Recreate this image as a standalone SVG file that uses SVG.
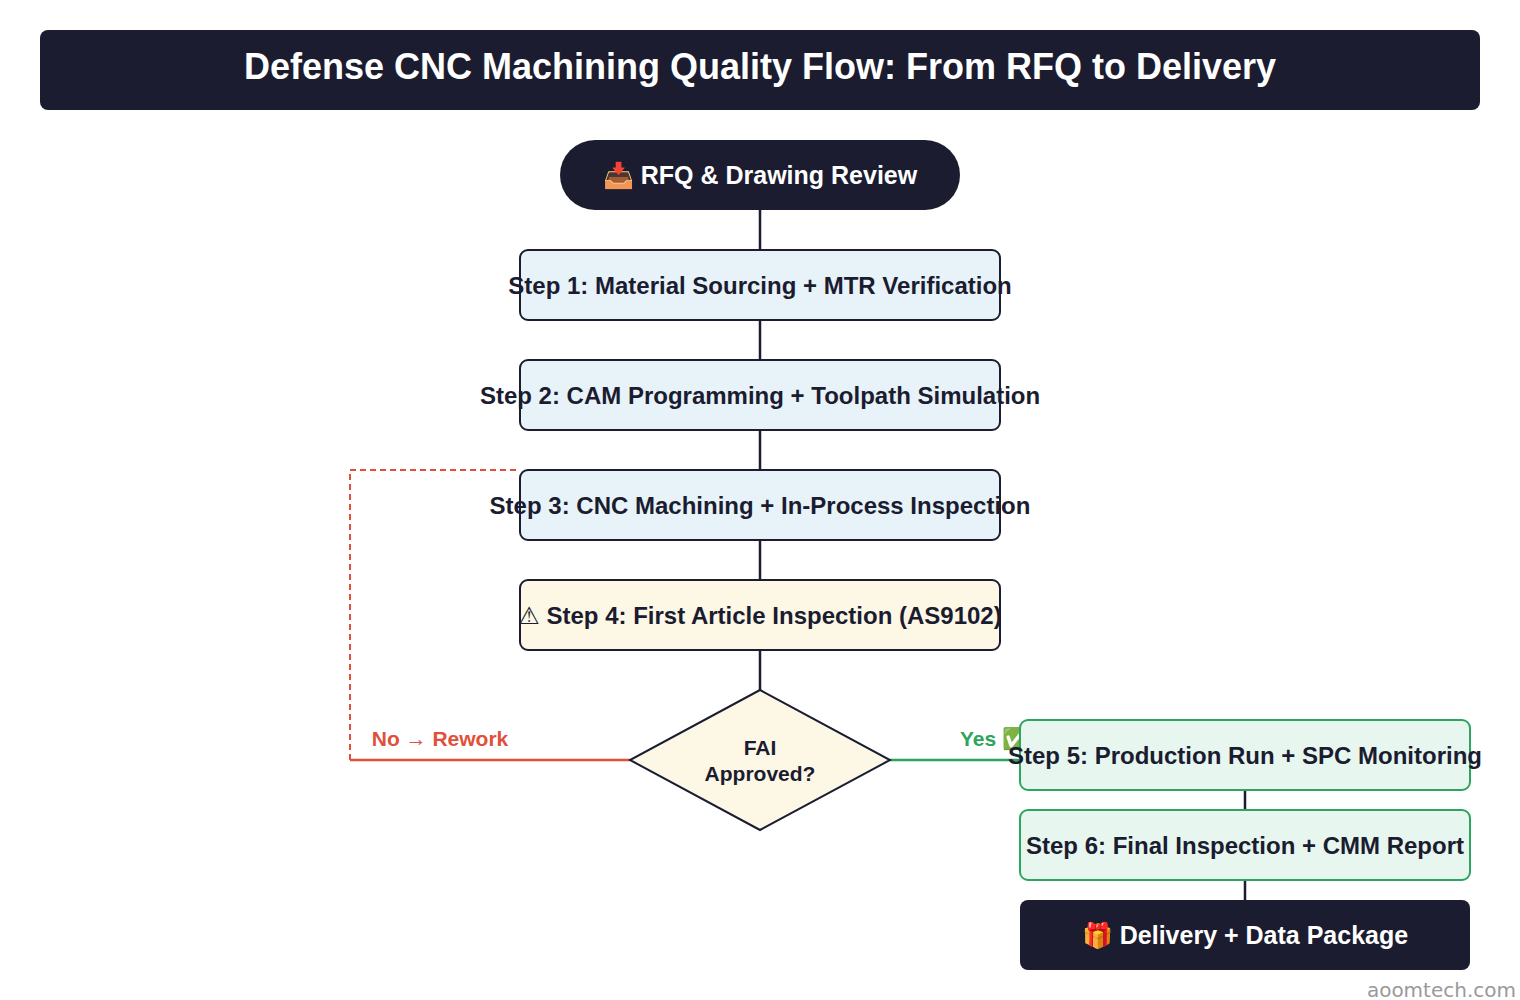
<svg xmlns="http://www.w3.org/2000/svg" width="1520" height="1000" viewBox="0 0 1520 1000">
<style>
text{font-family:"Liberation Sans","DejaVu Sans",sans-serif;font-weight:bold;text-anchor:middle;dominant-baseline:central}
.dark{fill:#1b1c30}
.step{fill:#e8f3f9;stroke:#1b1c30;stroke-width:2}
.fai{fill:#fdf8e6;stroke:#1b1c30;stroke-width:2}
.prod{fill:#e7f6ee;stroke:#2da55e;stroke-width:2}
.t{font-size:24px;fill:#1b1c30}
.w{font-size:25px;fill:#fff}
.ln{stroke:#1b1c30;stroke-width:2.5;fill:none}
</style>
<rect width="1520" height="1000" fill="#fff"/>
<g id="title"><rect x="40" y="30" width="1440" height="80" rx="8" class="dark"/><text x="760" y="66" style="font-size:36px;fill:#fff">Defense CNC Machining Quality Flow: From RFQ to Delivery</text></g>
<g id="connectors">
<path class="ln" d="M760 210V250M760 320V360M760 430V470M760 540V580M760 650V690M1245 790V810M1245 880V900"/>
<path d="M630 760H350" stroke="#e0503a" stroke-width="2.5" fill="none"/>
<path d="M350 760V470H520" stroke="#e0503a" stroke-width="2" stroke-dasharray="6,4" fill="none"/>
<path d="M890 760H1020" stroke="#2da55e" stroke-width="2.5" fill="none"/>
<text x="440" y="738" style="font-size:21px;fill:#e0503a">No → Rework</text>
<text x="994" y="738" style="font-size:21px;fill:#2da55e">Yes ✅</text>
</g>
<g id="start"><rect x="560" y="140" width="400" height="70" rx="35" class="dark"/><text x="760" y="175" class="w">📥 RFQ &amp; Drawing Review</text></g>
<g id="step1"><rect x="520" y="250" width="480" height="70" rx="8" class="step"/><text x="760" y="285" class="t">Step 1: Material Sourcing + MTR Verification</text></g>
<g id="step2"><rect x="520" y="360" width="480" height="70" rx="8" class="step"/><text x="760" y="395" class="t">Step 2: CAM Programming + Toolpath Simulation</text></g>
<g id="step3"><rect x="520" y="470" width="480" height="70" rx="8" class="step"/><text x="760" y="505" class="t">Step 3: CNC Machining + In-Process Inspection</text></g>
<g id="step4"><rect x="520" y="580" width="480" height="70" rx="8" class="fai"/><text x="760" y="615" class="t">⚠ Step 4: First Article Inspection (AS9102)</text></g>
<g id="decision"><polygon points="760,690 890,760 760,830 630,760" class="fai" stroke-width="2.5"/><text x="760" y="747" class="t" style="font-size:21px">FAI</text><text x="760" y="773" class="t" style="font-size:21px">Approved?</text></g>
<g id="step5"><rect x="1020" y="720" width="450" height="70" rx="8" class="prod"/><text x="1245" y="755" class="t">Step 5: Production Run + SPC Monitoring</text></g>
<g id="step6"><rect x="1020" y="810" width="450" height="70" rx="8" class="prod"/><text x="1245" y="845" class="t">Step 6: Final Inspection + CMM Report</text></g>
<g id="delivery"><rect x="1020" y="900" width="450" height="70" rx="8" class="dark"/><text x="1245" y="935" class="w">🎁 Delivery + Data Package</text></g>
<text x="1516" y="990" style="font-size:20px;fill:#999;font-weight:normal;text-anchor:end;font-family:'DejaVu Sans',sans-serif">aoomtech.com</text>
</svg>
